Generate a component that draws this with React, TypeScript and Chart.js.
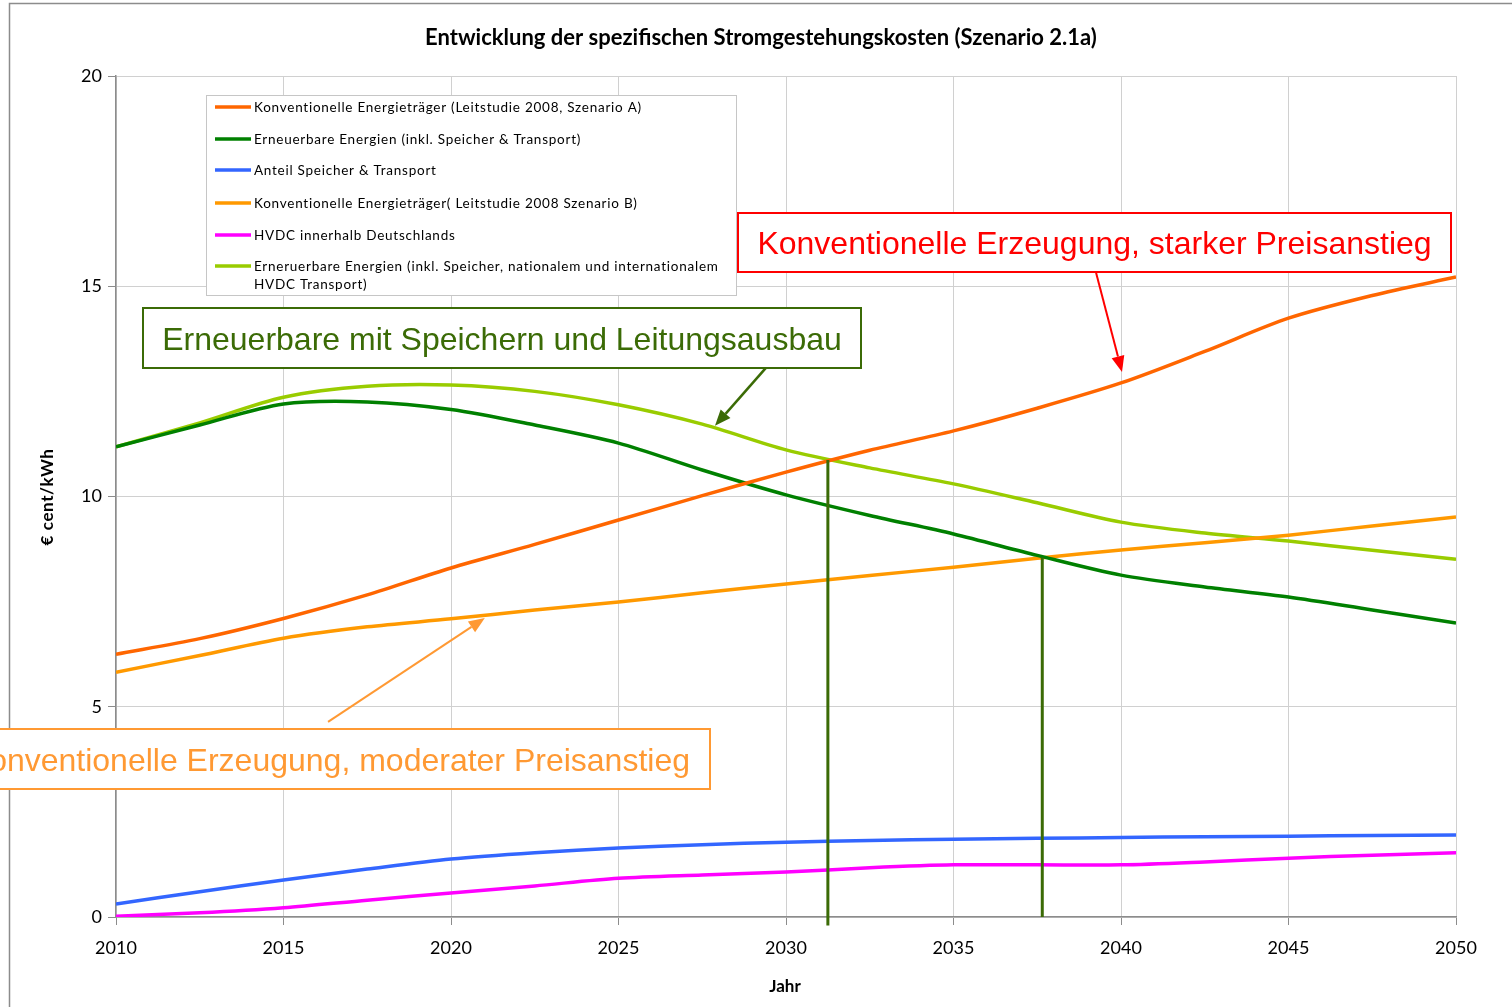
import { useEffect, useRef } from 'react';
import { Chart, registerables } from 'chart.js';

Chart.register(...registerables);

const years = [2010, 2012.5, 2015, 2017.5, 2020, 2022.5, 2025, 2027.5, 2030, 2032.5, 2035, 2037.5, 2040, 2042.5, 2045, 2047.5, 2050];

const konvA = [6.25, 6.62, 7.1, 7.66, 8.3, 8.86, 9.44, 10.02, 10.58, 11.1, 11.56, 12.1, 12.7, 13.45, 14.24, 14.78, 15.22];
const erneuerbar = [11.18, 11.7, 12.2, 12.25, 12.07, 11.7, 11.27, 10.63, 10.04, 9.55, 9.11, 8.6, 8.13, 7.85, 7.61, 7.3, 6.99];
const speicher = [0.31, 0.6, 0.88, 1.14, 1.38, 1.53, 1.64, 1.72, 1.78, 1.82, 1.85, 1.87, 1.89, 1.91, 1.92, 1.94, 1.95];
const konvB = [5.82, 6.22, 6.63, 6.9, 7.09, 7.3, 7.49, 7.71, 7.92, 8.12, 8.32, 8.53, 8.73, 8.9, 9.08, 9.3, 9.51];
const hvdc = [0.02, 0.1, 0.22, 0.4, 0.57, 0.74, 0.92, 1.0, 1.07, 1.17, 1.24, 1.24, 1.24, 1.31, 1.4, 1.47, 1.53];
const erneuerbarHvdc = [11.18, 11.75, 12.36, 12.62, 12.65, 12.5, 12.18, 11.72, 11.11, 10.68, 10.3, 9.85, 9.39, 9.13, 8.94, 8.72, 8.51];

const seriesLabels: string[][] = [
  ['Konventionelle Energieträger (Leitstudie 2008, Szenario A)'],
  ['Erneuerbare Energien (inkl. Speicher & Transport)'],
  ['Anteil Speicher & Transport'],
  ['Konventionelle Energieträger( Leitstudie 2008 Szenario B)'],
  ['HVDC innerhalb Deutschlands'],
  ['Erneruerbare Energien (inkl. Speicher, nationalem und internationalem', 'HVDC Transport)'],
];
const seriesValues = [konvA, erneuerbar, speicher, konvB, hvdc, erneuerbarHvdc];
const seriesColors = ['#ff6600', '#008000', '#3366ff', '#ff9900', '#ff00ff', '#99cc00'];

const titleText = 'Entwicklung der spezifischen Stromgestehungskosten (Szenario 2.1a)';
const xTitle = 'Jahr';
const yTitle = '€ cent/kWh';

// crossing markers (year, value at top)
const crossYears = [2031.25, 2037.65];
const crossValues = [10.87, 8.55];
const crossBottoms = [-0.2, 0];

// annotation callouts
const calloutTexts = [
  'Konventionelle Erzeugung, starker Preisanstieg',
  'Erneuerbare mit Speichern und Leitungsausbau',
  'Konventionelle Erzeugung, moderater Preisanstieg',
];
const calloutColors = ['#ff0000', '#3b6b06', '#ff9933'];
// arrows in data space: [fromYear, fromValue, toYear, toValue]
const calloutArrows = [
  [2039.25, 15.34, 2040.03, 12.96],
  [2029.4, 13.06, 2027.88, 11.68],
  [2016.33, 4.64, 2021.01, 7.11],
];

function drawArrow(ctx: CanvasRenderingContext2D, x1: number, y1: number, x2: number, y2: number, color: string, width: number, headLen: number, headW: number) {
  const ang = Math.atan2(y2 - y1, x2 - x1);
  const bx = x2 - headLen * Math.cos(ang);
  const by = y2 - headLen * Math.sin(ang);
  ctx.strokeStyle = color;
  ctx.fillStyle = color;
  ctx.lineWidth = width;
  ctx.beginPath();
  ctx.moveTo(x1, y1);
  ctx.lineTo(bx, by);
  ctx.stroke();
  ctx.beginPath();
  ctx.moveTo(x2, y2);
  ctx.lineTo(bx + (headW / 2) * Math.sin(ang), by - (headW / 2) * Math.cos(ang));
  ctx.lineTo(bx - (headW / 2) * Math.sin(ang), by + (headW / 2) * Math.cos(ang));
  ctx.closePath();
  ctx.fill();
}

const overlayPlugin = {
  id: 'overlay',
  beforeDraw(chart: any) {
    const ctx: CanvasRenderingContext2D = chart.ctx;
    ctx.save();
    ctx.fillStyle = '#ffffff';
    ctx.fillRect(0, 0, chart.width, chart.height);
    ctx.restore();
  },
  afterDraw(chart: any) {
    const ctx: CanvasRenderingContext2D = chart.ctx;
    const xs = chart.scales.x;
    const ys = chart.scales.y;
    ctx.save();

    // outer frame
    ctx.strokeStyle = '#8c8c8c';
    ctx.lineWidth = 1.5;
    ctx.beginPath();
    ctx.moveTo(9.5, chart.height);
    ctx.lineTo(9.5, 3.5);
    ctx.lineTo(chart.width, 3.5);
    ctx.stroke();

    // title
    ctx.fillStyle = '#000000';
    ctx.font = 'bold 22px Lato';
    ctx.textAlign = 'center';
    ctx.textBaseline = 'middle';
    ctx.fillText(titleText, 761, 38);

    // axis titles
    ctx.font = 'bold 17px Lato';
    ctx.fillText(xTitle, 785, 987);
    ctx.save();
    ctx.translate(48, 497);
    ctx.rotate(-Math.PI / 2);
    (ctx as any).letterSpacing = '0.6px';
    ctx.fillText(yTitle, 0, 0);
    ctx.restore();

    // crossing markers
    ctx.strokeStyle = '#3b6b06';
    ctx.lineWidth = 3;
    crossYears.forEach((yr, i) => {
      const px = xs.getPixelForValue(yr);
      ctx.beginPath();
      ctx.moveTo(px, ys.getPixelForValue(crossValues[i]));
      ctx.lineTo(px, ys.getPixelForValue(crossBottoms[i]));
      ctx.stroke();
    });

    // legend
    ctx.fillStyle = '#ffffff';
    ctx.fillRect(206, 95, 530, 200);
    ctx.strokeStyle = '#c6c6c6';
    ctx.lineWidth = 1;
    ctx.strokeRect(206.5, 95.5, 530, 200);
    const legendYs = [107, 139, 170, 203, 235, 266];
    ctx.font = '13.5px Lato';
    (ctx as any).letterSpacing = '0.75px';
    ctx.textAlign = 'left';
    ctx.textBaseline = 'middle';
    seriesLabels.forEach((lines, i) => {
      const ly = legendYs[i];
      ctx.strokeStyle = seriesColors[i];
      ctx.lineWidth = 3.5;
      ctx.beginPath();
      ctx.moveTo(215, ly);
      ctx.lineTo(251, ly);
      ctx.stroke();
      ctx.fillStyle = '#000000';
      lines.forEach((t, j) => ctx.fillText(t, 254, ly + 1 + j * 18));
    });
    (ctx as any).letterSpacing = '0px';

    // callout boxes
    const boxes = [
      [738, 213, 713, 59],
      [143, 308, 718, 60],
      [-40, 729, 750, 60],
    ];
    ctx.font = '32px "Liberation Sans"';
    ctx.textBaseline = 'middle';
    boxes.forEach((b, i) => {
      ctx.fillStyle = '#ffffff';
      ctx.fillRect(b[0], b[1], b[2], b[3]);
      ctx.strokeStyle = calloutColors[i];
      ctx.lineWidth = 2;
      ctx.strokeRect(b[0], b[1], b[2], b[3]);
      ctx.fillStyle = calloutColors[i];
      if (i === 2) {
        ctx.textAlign = 'right';
        ctx.fillText(calloutTexts[i], 690, b[1] + b[3] / 2 + 3);
      } else {
        ctx.textAlign = 'center';
        ctx.fillText(calloutTexts[i], b[0] + b[2] / 2, b[1] + b[3] / 2 + 3);
      }
    });

    // arrows
    const arrowWidths = [2, 2.5, 2];
    calloutArrows.forEach((a, i) => {
      drawArrow(
        ctx,
        xs.getPixelForValue(a[0]), ys.getPixelForValue(a[1]),
        xs.getPixelForValue(a[2]), ys.getPixelForValue(a[3]),
        calloutColors[i], arrowWidths[i], 16, 13
      );
    });

    ctx.restore();
  },
};

export default function App() {
  const canvasRef = useRef<HTMLCanvasElement | null>(null);

  useEffect(() => {
    if (!canvasRef.current) return;
    const chart = new Chart(canvasRef.current, {
      type: 'line',
      data: {
        datasets: seriesValues.map((vals, i) => ({
          label: seriesLabels[i].join(' '),
          data: years.map((yr, k) => ({ x: yr, y: vals[k] })),
          borderColor: seriesColors[i],
          backgroundColor: seriesColors[i],
          borderWidth: 3.5,
          pointRadius: 0,
          tension: 0.3,
          fill: false,
        })),
      },
      options: {
        animation: false,
        responsive: false,
        devicePixelRatio: 1,
        layout: { padding: { top: 76, right: 56, left: 0, bottom: 0 } },
        plugins: {
          legend: { display: false },
          title: { display: false },
          tooltip: { enabled: false },
        },
        scales: {
          x: {
            type: 'linear',
            min: 2010,
            max: 2050,
            ticks: {
              stepSize: 5,
              color: '#000000',
              font: { family: 'Lato', size: 18 },
              padding: 12,
              callback: (v: any) => String(v),
            },
            grid: { color: '#d0d0d0', tickColor: '#8c8c8c', tickLength: 8, lineWidth: 1 },
            border: { color: '#8c8c8c', width: 1.5 },
            afterFit: (scale: any) => { scale.height = 90; },
          },
          y: {
            type: 'linear',
            min: 0,
            max: 20,
            ticks: {
              stepSize: 5,
              color: '#000000',
              font: { family: 'Lato', size: 18 },
              padding: 6,
            },
            grid: { color: '#d0d0d0', tickColor: '#8c8c8c', tickLength: 8, lineWidth: 1 },
            border: { color: '#8c8c8c', width: 1.5 },
            afterFit: (scale: any) => { scale.width = 116; },
          },
        },
      },
      plugins: [overlayPlugin],
    });
    return () => chart.destroy();
  }, []);

  return (
    <div style={{ position: 'absolute', left: 0, top: 0, width: 1512, height: 1007 }}>
      <canvas ref={canvasRef} width={1512} height={1007} style={{ display: 'block' }} />
    </div>
  );
}
